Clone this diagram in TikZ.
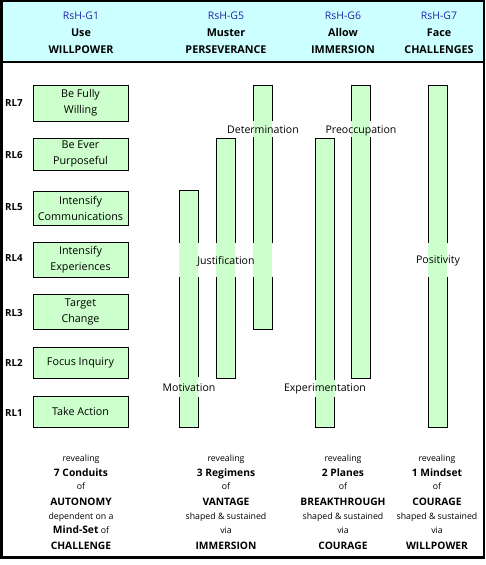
\documentclass[tikz,border=0pt]{standalone}
\usepackage{fontspec}
\setmainfont{Open Sans}
\definecolor{barg}{HTML}{CCFFCC}
\definecolor{headbg}{HTML}{CCFFFF}
\definecolor{gblue}{HTML}{2222AA}
\begin{document}
\begin{tikzpicture}[x=1bp,y=-1bp,
  every node/.style={inner sep=0pt, outer sep=0pt},
  hd/.style={anchor=base, font=\fontsize{10.8}{12}\selectfont\bfseries},
  hdb/.style={anchor=base, font=\fontsize{10.5}{12}\selectfont, text=gblue},
  rl/.style={anchor=base, font=\fontsize{9.8}{11}\selectfont\bfseries},
  lbox/.style={draw, line width=0.9bp, fill=barg, minimum width=95bp, align=center,
     font=\fontsize{10.8}{16}\selectfont},
  bar/.style={draw, line width=0.9bp, fill=barg, minimum width=19bp, anchor=north west},
  lbl/.style={anchor=base, font=\fontsize{10.6}{12}\selectfont},
  bsm/.style={anchor=base, font=\fontsize{8.8}{10}\selectfont},
  bbf/.style={anchor=base, font=\fontsize{10.3}{12}\selectfont\bfseries}
]
\useasboundingbox (0,0) rectangle (486,565);
% header band
\fill[headbg] (1,1) rectangle (484,62);
\draw[line width=1.5bp] (1,62) -- (484,62);
\draw[line width=2.5bp] (1.25,1.25) rectangle (484,557.5);

% header texts
\node[hdb] (g1a) at (81,20) {RsH-G1};
\node[hd]  (g1b) at (81,37) {Use};
\node[hd]  (g1c) at (81,54) {WILLPOWER};
\node[hdb] (g5a) at (226,20) {RsH-G5};
\node[hd]  (g5b) at (226,37) {Muster};
\node[hd]  (g5c) at (226,54) {PERSEVERANCE};
\node[hdb] (g6a) at (343,20) {RsH-G6};
\node[hd]  (g6b) at (343,37) {Allow};
\node[hd]  (g6c) at (343,54) {IMMERSION};
\node[hdb] (g7a) at (439,20) {RsH-G7};
\node[hd]  (g7b) at (439,37) {Face};
\node[hd]  (g7c) at (439,54) {CHALLENGES};

% RL labels
\node[rl] (rl7) at (14,106.5) {RL7};
\node[rl] (rl6) at (14,158.5) {RL6};
\node[rl] (rl5) at (14,210.5) {RL5};
\node[rl] (rl4) at (14,261.5) {RL4};
\node[rl] (rl3) at (14,316.5) {RL3};
\node[rl] (rl2) at (14,366.5) {RL2};
\node[rl] (rl1) at (14,416) {RL1};

% left boxes
\node[lbox, minimum height=36bp] (b7) at (80.5,103) {Be Fully\\Willing};
\node[lbox, minimum height=32bp] (b6) at (80.5,154) {Be Ever\\Purposeful};
\node[lbox, minimum height=34bp] (b5) at (80.5,208) {Intensify\\Communications};
\node[lbox, minimum height=35bp] (b4) at (80.5,259.5) {Intensify\\Experiences};
\node[lbox, minimum height=35bp] (b3) at (80.5,311.5) {Target\\Change};
\node[lbox, minimum height=31bp] (b2) at (80.5,362.5) {Focus Inquiry};
\node[lbox, minimum height=31bp] (b1) at (80.5,411.5) {Take Action};

% bars
\node[bar, minimum height=237bp] (ba) at (179,190) {};
\node[bar, minimum height=240bp] (bb) at (216,138) {};
\node[bar, minimum height=244bp] (bc) at (253,85) {};
\node[bar, minimum height=289bp] (bd) at (315.5,138) {};
\node[bar, minimum height=293bp] (be) at (351,85) {};
\node[bar, minimum height=342bp] (bf) at (428,85) {};

% border cuts behind labels
\foreach \xa/\ya/\yb in {253/121/137, 351/121/137,
   179/243/277, 216/243/277, 253/243/277, 428/243/277,
   179/377/397, 315.5/380/397}{
  \fill[white] (\xa-1.5,\ya) rectangle (\xa+20.5,\yb);
  \fill[barg] (\xa,\ya) rectangle (\xa+19,\yb);
}

% bar labels
\node[lbl] (ldet) at (263,134) {Determination};
\node[lbl] (lpre) at (361,134) {Preoccupation};
\node[lbl] (ljus) at (226,264) {Justification};
\node[lbl] (lpos) at (438,263.5) {Positivity};
\node[lbl] (lmot) at (189,391.5) {Motivation};
\node[lbl] (lexp) at (325,391.5) {Experimentation};

% bottom texts
\node[bsm] (c1a) at (81,461.5) {revealing};
\node[bbf] (c1b) at (81,476.5) {7 Conduits};
\node[bsm] (c1c) at (81,489.5) {of};
\node[bbf] (c1d) at (81,505) {AUTONOMY};
\node[bsm] (c1e) at (81,519) {dependent on a};
\node[anchor=base] (c1f) at (81,533.5) {\fontsize{10.3}{12}\selectfont\bfseries Mind-Set\fontsize{8.8}{10}\selectfont\mdseries{} of};
\node[bbf] (c1g) at (81,549.5) {CHALLENGE};

\node[bsm] (c2a) at (226,461.5) {revealing};
\node[bbf] (c2b) at (226,476.5) {3 Regimens};
\node[bsm] (c2c) at (226,489.5) {of};
\node[bbf] (c2d) at (226,505) {VANTAGE};
\node[bsm] (c2e) at (226,519) {shaped \& sustained};
\node[bsm] (c2f) at (226,533.5) {via};
\node[bbf] (c2g) at (226,549.5) {IMMERSION};

\node[bsm] (c3a) at (343,461.5) {revealing};
\node[bbf] (c3b) at (343,476.5) {2 Planes};
\node[bsm] (c3c) at (343,489.5) {of};
\node[bbf] (c3d) at (343,505) {BREAKTHROUGH};
\node[bsm] (c3e) at (343,519) {shaped \& sustained};
\node[bsm] (c3f) at (343,533.5) {via};
\node[bbf] (c3g) at (343,549.5) {COURAGE};

\node[bsm] (c4a) at (437,461.5) {revealing};
\node[bbf] (c4b) at (437,476.5) {1 Mindset};
\node[bsm] (c4c) at (437,489.5) {of};
\node[bbf] (c4d) at (437,505) {COURAGE};
\node[bsm] (c4e) at (437,519) {shaped \& sustained};
\node[bsm] (c4f) at (437,533.5) {via};
\node[bbf] (c4g) at (437,549.5) {WILLPOWER};
\end{tikzpicture}
\end{document}
